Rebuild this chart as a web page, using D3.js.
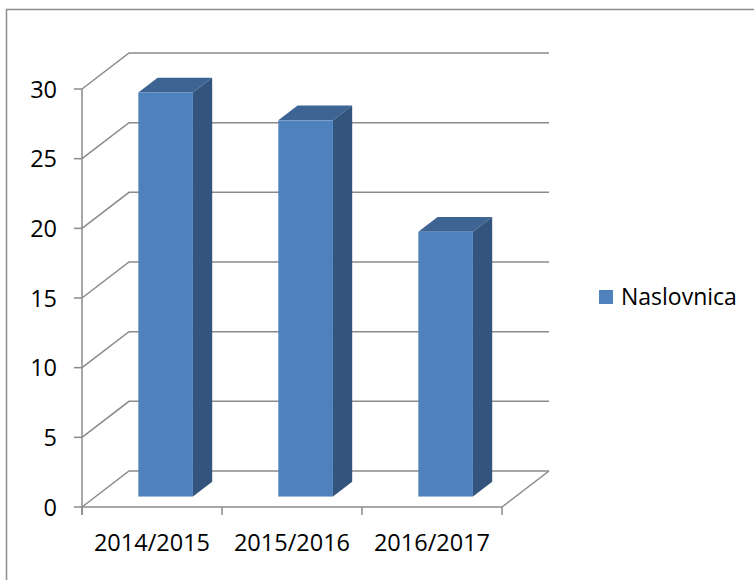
<!DOCTYPE html>
<html lang="en">
  <head>
    <meta charset="UTF-8">
    <script src="https://cdn.jsdelivr.net/npm/d3@7"></script>
    <style>
      body { margin: 0; background: #fff; }
      text { font-family: 'Open Sans', sans-serif; }
    </style>
    <title>Naslovnica</title>
  </head>
  <body>
    <script>
      // 3D column chart, Excel style

      let w = 754;
      let h = 580;

      let categories = ['2014/2015', '2015/2016', '2016/2017'];
      let values = [29, 27, 19];
      let yTicks = [0, 5, 10, 15, 20, 25, 30];
      let seriesName = 'Naslovnica';

      // depth of the plot box (front -> back wall)
      let depthX = 47;
      let depthY = -36;
      // bars sit between these depth fractions
      let f0 = 0.29;
      let f1 = 0.70;

      let xScale = d3.scaleBand()
                      .domain(categories)
                      .range([82, 502])
                      .padding(0);

      let yScale = d3.scaleLinear()
                      .domain([0, 30])
                      .range([507, 89]);

      let barW = xScale.bandwidth() * 0.39;
      let grid = '#8a8a8a';

      let svg = d3.select('body')
                  .append('svg')
                  .attr('width', w)
                  .attr('height', h);

      // outer frame
      svg.append('rect')
          .attr('x', 6.5).attr('y', 9.5)
          .attr('width', 800).attr('height', 600)
          .attr('fill', 'none')
          .attr('stroke', '#8c8c8c')
          .attr('stroke-width', 1.5);

      let x0 = xScale.range()[0];
      let x1 = xScale.range()[1];

      // back wall gridlines + left wall diagonals
      svg.selectAll('path.grid')
          .data(yTicks)
          .enter()
          .append('path')
          .attr('class', 'grid')
          .attr('d', d => {
            let y = yScale(d);
            return `M${x0},${y}L${x0 + depthX},${y + depthY}L${x1 + depthX},${y + depthY}`;
          })
          .attr('fill', 'none')
          .attr('stroke', grid)
          .attr('stroke-width', 1.5);

      // floor: front edge and right diagonal
      let y0 = yScale(0);
      svg.append('path')
          .attr('d', `M${x0},${y0}L${x1},${y0}L${x1 + depthX},${y0 + depthY}`)
          .attr('fill', 'none')
          .attr('stroke', grid)
          .attr('stroke-width', 1.5);

      // left axis line
      svg.append('line')
          .attr('x1', x0).attr('x2', x0)
          .attr('y1', yScale(30)).attr('y2', y0 + 8)
          .attr('stroke', grid)
          .attr('stroke-width', 1.5);

      // y ticks
      svg.selectAll('line.ytick')
          .data(yTicks)
          .enter()
          .append('line')
          .attr('class', 'ytick')
          .attr('x1', x0 - 8).attr('x2', x0)
          .attr('y1', d => yScale(d)).attr('y2', d => yScale(d))
          .attr('stroke', grid)
          .attr('stroke-width', 1.5);

      // x ticks (band edges)
      let xEdges = categories.map(c => xScale(c)).concat([x1]);
      svg.selectAll('line.xtick')
          .data(xEdges)
          .enter()
          .append('line')
          .attr('class', 'xtick')
          .attr('x1', d => d).attr('x2', d => d)
          .attr('y1', y0).attr('y2', y0 + 8)
          .attr('stroke', grid)
          .attr('stroke-width', 1.5);

      // bars
      let bars = svg.selectAll('g.bar')
          .data(values)
          .enter()
          .append('g')
          .attr('class', 'bar');

      let fx = (d, i) => xScale(categories[i]) + (xScale.bandwidth() - barW) / 2 + f0 * depthX;
      let dDx = (f1 - f0) * depthX;
      let dDy = (f1 - f0) * depthY;

      // top face
      bars.append('path')
          .attr('d', (d, i) => {
            let x = fx(d, i), y = yScale(d) + f0 * depthY;
            return `M${x},${y}L${x + barW},${y}L${x + barW + dDx},${y + dDy}L${x + dDx},${y + dDy}Z`;
          })
          .attr('fill', '#3d6493');

      // side face
      bars.append('path')
          .attr('d', (d, i) => {
            let x = fx(d, i) + barW, yt = yScale(d) + f0 * depthY, yb = y0 + f0 * depthY;
            return `M${x},${yt}L${x + dDx},${yt + dDy}L${x + dDx},${yb + dDy}L${x},${yb}Z`;
          })
          .attr('fill', '#33547c');

      // front face
      bars.append('rect')
          .attr('x', fx)
          .attr('y', d => yScale(d) + f0 * depthY)
          .attr('width', barW)
          .attr('height', d => y0 - yScale(d))
          .attr('fill', '#4f81bd');

      // y labels
      svg.selectAll('text.ylab')
          .data(yTicks)
          .enter()
          .append('text')
          .attr('class', 'ylab')
          .text(d => d)
          .attr('x', 57)
          .attr('y', d => yScale(d) + 8.5)
          .attr('text-anchor', 'end')
          .attr('font-size', 23.5)
          .attr('fill', '#000');

      // x labels
      svg.selectAll('text.xlab')
          .data(categories)
          .enter()
          .append('text')
          .attr('class', 'xlab')
          .text(d => d)
          .attr('x', d => xScale(d) + xScale.bandwidth() / 2)
          .attr('y', 551)
          .attr('text-anchor', 'middle')
          .attr('font-size', 23.5)
          .attr('fill', '#000');

      // legend
      svg.append('rect')
          .attr('x', 599).attr('y', 290)
          .attr('width', 14).attr('height', 14)
          .attr('fill', '#4f81bd');
      svg.append('text')
          .text(seriesName)
          .attr('x', 621)
          .attr('y', 305)
          .attr('font-size', 23)
          .attr('fill', '#000');
    </script>
  </body>
</html>
